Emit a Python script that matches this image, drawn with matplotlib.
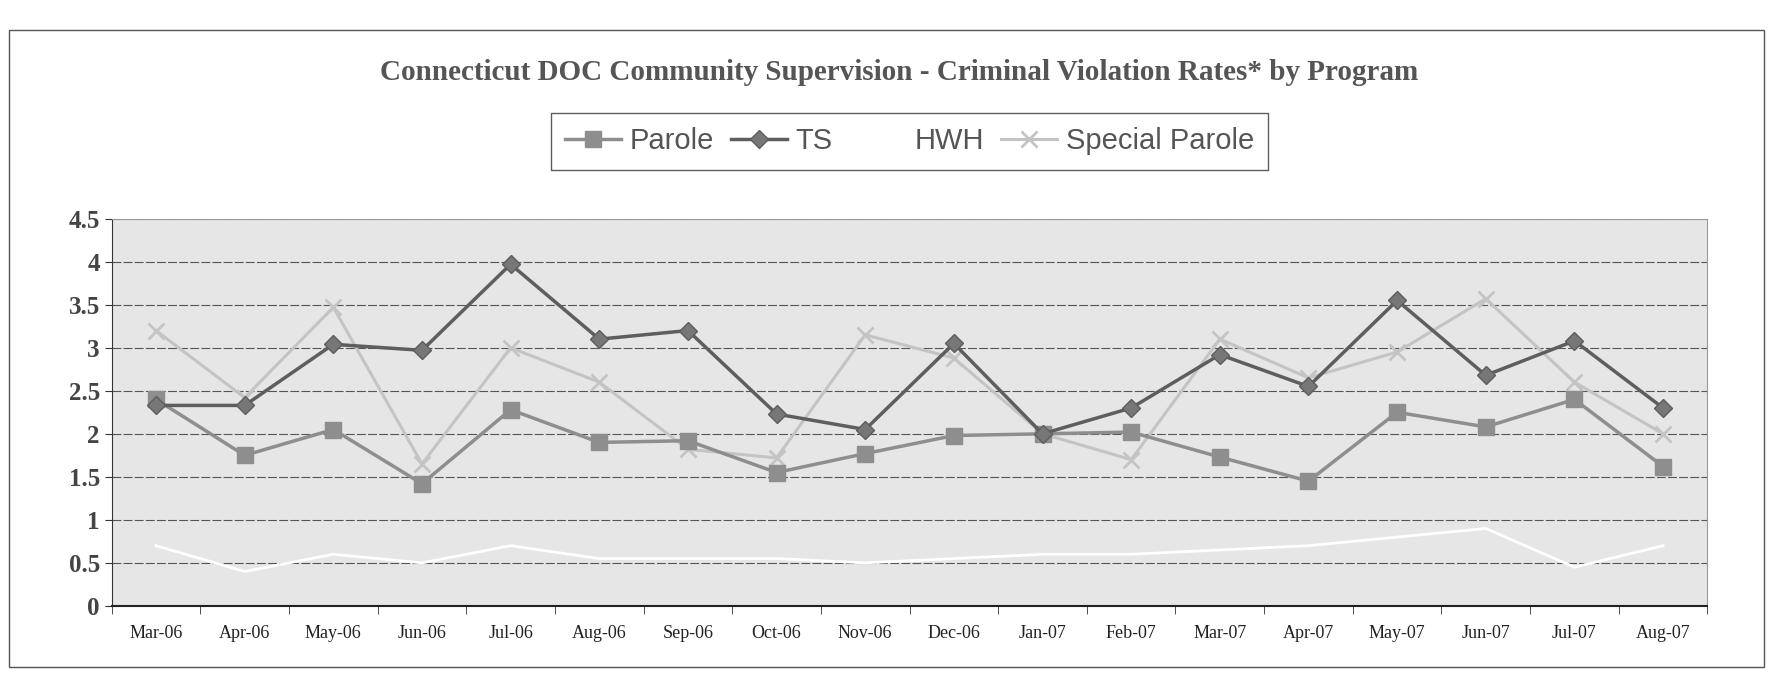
import numpy as np
import matplotlib.pyplot as plt
from matplotlib.patches import Rectangle

months = ["Mar-06", "Apr-06", "May-06", "Jun-06", "Jul-06", "Aug-06", "Sep-06", "Oct-06", "Nov-06",
          "Dec-06", "Jan-07", "Feb-07", "Mar-07", "Apr-07", "May-07", "Jun-07", "Jul-07", "Aug-07"]
parole = [2.40, 1.75, 2.05, 1.42, 2.28, 1.90, 1.92, 1.55, 1.77, 1.98, 2.00, 2.02, 1.73, 1.45, 2.25, 2.08, 2.40, 1.62]
ts = [2.33, 2.33, 3.04, 2.97, 3.97, 3.10, 3.20, 2.23, 2.05, 3.05, 2.00, 2.30, 2.92, 2.55, 3.55, 2.68, 3.08, 2.30]
hwh = [0.70, 0.40, 0.60, 0.50, 0.70, 0.55, 0.55, 0.55, 0.50, 0.55, 0.60, 0.60, 0.65, 0.70, 0.80, 0.90, 0.45, 0.70]
special = [3.20, 2.42, 3.47, 1.65, 3.00, 2.60, 1.82, 1.72, 3.15, 2.88, 2.00, 1.70, 3.10, 2.65, 2.95, 3.57, 2.60, 2.00]
yticks = [0, 0.5, 1, 1.5, 2, 2.5, 3, 3.5, 4, 4.5]

fig = plt.figure(figsize=(17.73, 6.77), dpi=100)
fig.patch.set_facecolor("white")

# outer chart border
fig.patches.append(Rectangle((0.005, 0.015), 0.99, 0.94, transform=fig.transFigure,
                             fill=False, edgecolor="#555555", linewidth=1.0))

ax = fig.add_axes([0.063, 0.105, 0.9, 0.572])
ax.set_facecolor("#e6e6e6")
x = np.arange(len(months))

ax.plot(x, hwh, color="white", linewidth=2, label="HWH", zorder=2)
ax.plot(x, special, color="#c4c4c4", linewidth=2.2, marker="x", markersize=11,
        markeredgewidth=2, label="Special Parole", zorder=3)
ax.plot(x, parole, color="#8e8e8e", linewidth=2.5, marker="s", markersize=11,
        label="Parole", zorder=4)
ax.plot(x, ts, color="#5e5e5e", linewidth=2.5, marker="D", markersize=9,
        markerfacecolor="#777777", label="TS", zorder=5)

ax.set_xlim(-0.5, len(months) - 0.5)
ax.set_ylim(0, 4.5)
ax.set_yticks(yticks)
ax.set_yticklabels([f"{v:g}" for v in yticks], fontfamily="Liberation Serif",
                   fontsize=18, fontweight="bold", color="#444444")
ax.set_xticks(x)
ax.set_xticklabels(months, fontfamily="Liberation Serif", fontsize=13, color="#222222")
ax.tick_params(axis="x", length=0, pad=14)
ax.set_xticks(np.arange(-0.5, len(months)), minor=True)
ax.tick_params(axis="x", which="minor", length=6, color="#333333")
ax.tick_params(axis="y", length=5, color="#333333")
ax.grid(axis="y", color="#555555", linewidth=0.8, linestyle=(0, (8, 2)))
ax.set_axisbelow(True)
for side in ["top", "right"]:
    ax.spines[side].set_color("#999999")
ax.spines["left"].set_color("#333333")
ax.spines["bottom"].set_color("#222222")
ax.spines["bottom"].set_linewidth(1.5)

fig.text(0.507, 0.893, "Connecticut DOC Community Supervision - Criminal Violation Rates* by Program",
         ha="center", va="center", fontfamily="Liberation Serif", fontsize=21,
         fontweight="bold", color="#555555")

handles, labels = ax.get_legend_handles_labels()
order = [2, 3, 0, 1]
leg = fig.legend([handles[i] for i in order], [labels[i] for i in order],
                 loc="center", bbox_to_anchor=(0.513, 0.791), ncol=4,
                 prop={"family": "Liberation Sans", "size": 21}, frameon=True,
                 fancybox=False, edgecolor="#333333", handlelength=1.9,
                 columnspacing=0.6, handletextpad=0.3, borderpad=0.5)
for t in leg.get_texts():
    t.set_color("#555555")

fig.savefig("out.png", dpi=100)
